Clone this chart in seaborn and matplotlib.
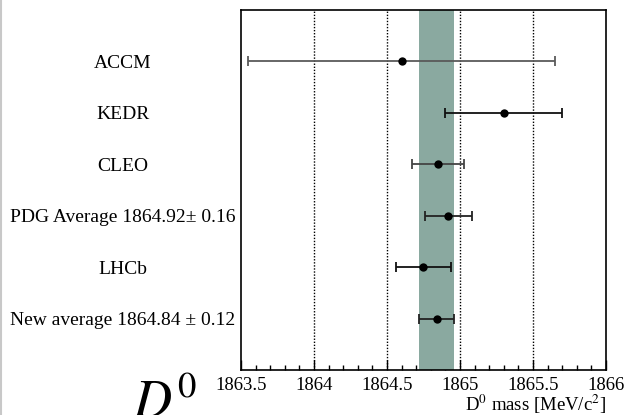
import matplotlib
matplotlib.use("Agg")
import matplotlib.pyplot as plt
from matplotlib.lines import Line2D
import seaborn as sns
import pandas as pd

# ---- data ----
experiments = ["ACCM", "KEDR", "CLEO", "PDG Average 1864.92\u00b1 0.16", "LHCb",
               "New average 1864.84 \u00b1 0.12"]
masses = [1864.60, 1865.30, 1864.847, 1864.92, 1864.75, 1864.84]
errors = [1.05, 0.40, 0.178, 0.16, 0.19, 0.12]
row_pos = [6, 5, 4, 3, 2, 1]
bar_colors = ["#5a5a5a", "#111111", "#444444", "#222222", "#111111", "#222222"]
band_center = 1864.84
band_halfwidth = 0.12
x_major = [1863.5, 1864, 1864.5, 1865, 1865.5, 1866]
x_major_labels = ["1863.5", "1864", "1864.5", "1865", "1865.5", "1866"]
grid_lines = [1864, 1864.5, 1865, 1865.5]

df = pd.DataFrame({"experiment": experiments, "mass": masses,
                   "err": errors, "pos": row_pos})

sns.set_theme(style="white")
plt.rcParams["font.family"] = ["Liberation Serif", "DejaVu Serif"]
plt.rcParams["mathtext.fontset"] = "stix"

fig = plt.figure(figsize=(6.26, 4.15), dpi=100)
ax = fig.add_axes([241/626, 1 - 370/415, (606-241)/626, (370-10)/415])

# band for new average
ax.axvspan(band_center - band_halfwidth, band_center + band_halfwidth,
           color="#8aa9a0", zorder=1, lw=0)

# dotted grid lines
for g in grid_lines:
    ax.axvline(g, color="black", ls=(0, (1, 1.2)), lw=1.0, zorder=0.5)

# error bars
for i, r in df.iterrows():
    ax.errorbar(r["mass"], r["pos"], xerr=r["err"], fmt="none",
                ecolor=bar_colors[i], elinewidth=1.3, capsize=3.8,
                capthick=1.3, zorder=2)

sns.scatterplot(data=df, x="mass", y="pos", color="black", s=36,
                edgecolor="black", linewidth=0, zorder=3, ax=ax, legend=False)

ax.set_xlim(1863.5, 1866)
ax.set_ylim(0, 7)
ax.set_xticks(x_major, x_major_labels)
ax.set_xticks([1863.5 + 0.1*i for i in range(26)], minor=True)
ax.tick_params(axis="x", which="major", direction="in", length=7, width=1,
               labelsize=13.5, pad=5, top=False, bottom=True, color="black",
               labelcolor="black")
ax.tick_params(axis="x", which="minor", direction="in", length=3.5, width=1,
               top=False, bottom=True, color="black")

ax.set_yticks(row_pos, experiments)
ax.tick_params(axis="y", length=0, pad=85, labelsize=14, labelcolor="black")
for lbl in ax.get_yticklabels():
    lbl.set_horizontalalignment("center")

for s in ax.spines.values():
    s.set_visible(True)
    s.set_color("black")
    s.set_linewidth(1.2)

ax.set_xlabel(r"D$^{0}$ mass [MeV/c$^{2}$]", fontsize=13.5, loc="right",
              labelpad=-1, color="black")
ax.set_ylabel("")

fig.text(133/626, -3/415, r"$D^{0}$", fontsize=38, ha="left",
         va="baseline", color="black")

fig.add_artist(Line2D([1/626, 1/626], [0, 1], color="#c8c8c8", lw=1.5,
                      transform=fig.transFigure))

fig.savefig("out.png", dpi=100)
